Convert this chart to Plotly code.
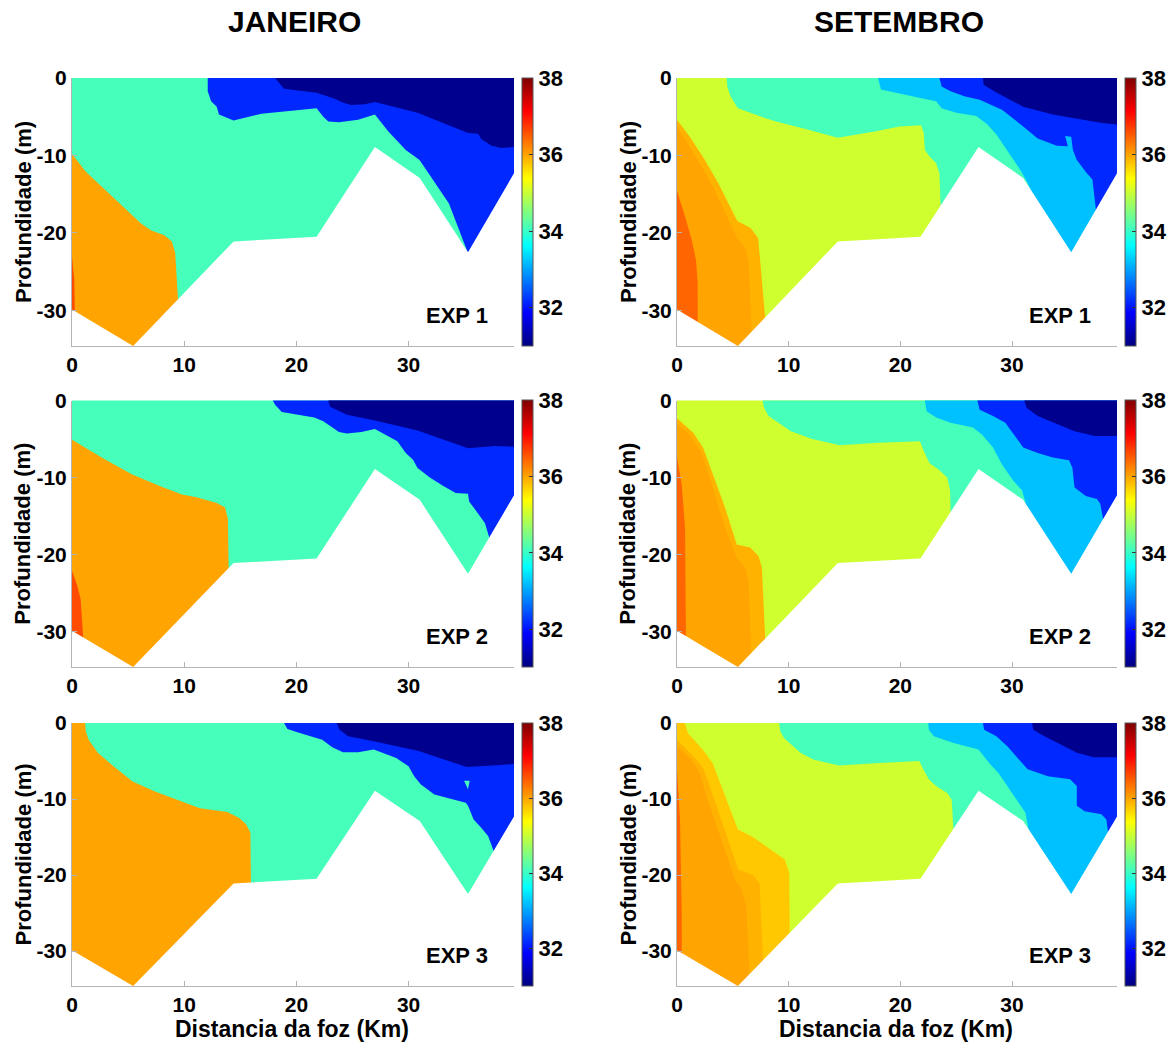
import plotly.graph_objects as go

# ---------------- data ----------------
CB_MIN, CB_MAX = 31.0, 38.0
X_MAX_KM = 39.4
DEPTH_MIN = -34.6

bathy_km = [0.0, 5.45, 14.4, 21.8, 27.0, 31.0, 35.3, 39.4]
bathy_depth = [-29.9, -34.6, -21.1, -20.5, -8.9, -12.9, -22.5, -12.3]

x_ticks = [0, 10, 20, 30]
y_ticks = [0, -10, -20, -30]
cbar_ticks = [32, 34, 36, 38]

month_titles = ["JANEIRO", "SETEMBRO"]
exp_labels = ["EXP 1", "EXP 2", "EXP 3"]
x_title = "Distancia da foz (Km)"
y_title = "Profundidade (m)"

# each region: (salinity class, side it is attached to, boundary km, boundary depth)
jan1_base = 34.1
jan1_regions = [
    (36.0, "left", [0, 1.23, 6.13, 7.06, 8.22, 8.9, 9.2, 9.45],
     [-9.8, -12.1, -18.75, -19.7, -20.3, -21.1, -22.6, -28.6]),
    (36.6, "left", [0, 0.2, 0.25], [-23.0, -26.0, -30.0]),
    (32.15, "right",
     [12.1, 12.1, 12.4, 12.9, 13.1, 14.4, 16.9, 19.0, 21.8, 22.4, 22.85, 23.8, 25.5, 27.0, 28.2, 29.75, 30.98, 31.6, 33.6, 35.27],
     [0, -1.7, -3.0, -3.7, -4.7, -5.5, -4.6, -4.3, -3.9, -5.0, -5.6, -5.7, -5.4, -4.7, -6.9, -9.3, -10.6, -11.9, -16.2, -22.5]),
    (31.1, "right",
     [18.1, 18.9, 21.8, 23.3, 24.2, 24.85, 26.1, 27.0, 30.8, 33.4, 35.3, 36.2, 36.5, 37.4, 38.3, 39.4],
     [0, -1.4, -1.9, -2.6, -3.2, -3.5, -3.4, -3.1, -4.5, -6.0, -7.1, -7.2, -7.9, -8.75, -9.05, -8.9]),
]

jan2_base = 34.1
jan2_regions = [
    (36.0, "left", [0, 2.76, 5.37, 7.98, 9.8, 11.2, 12.9, 13.65, 13.9, 13.96],
     [-5.1, -7.5, -9.6, -11.2, -12.2, -12.6, -13.3, -13.9, -15.4, -21.8]),
    (36.6, "left", [0, 0.46, 0.77, 1.0], [-22.1, -24.0, -25.8, -30.8]),
    (32.15, "right",
     [17.9, 18.1, 18.7, 21.6, 22.4, 23.8, 24.5, 25.8, 27.0, 29.0, 29.75, 30.4, 30.8, 31.9, 33.1, 34.2, 35.3, 35.4, 35.9, 36.8, 37.2],
     [0, -0.56, -1.5, -2.2, -2.7, -4.1, -4.3, -4.1, -3.7, -5.3, -6.8, -7.7, -8.75, -10.0, -11.1, -12.0, -12.1, -13.1, -14.1, -15.9, -17.8]),
    (31.1, "right", [22.85, 23.0, 24.5, 27.0, 30.8, 33.1, 35.3, 37.7, 39.4],
     [0, -0.8, -1.85, -2.6, -3.9, -5.1, -6.2, -5.9, -6.0]),
]

jan3_base = 34.1
jan3_regions = [
    (36.0, "left",
     [1.17, 1.23, 1.48, 2.3, 3.7, 5.4, 7.4, 9.85, 11.4, 13.85, 14.9, 15.5, 15.9, 15.95],
     [0, -1.1, -2.2, -3.9, -5.7, -7.7, -9.0, -10.3, -11.2, -11.7, -12.5, -13.3, -14.4, -21.0]),
    (32.15, "right",
     [18.9, 19.2, 20.3, 22.3, 23.2, 24.15, 25.5, 26.9, 28.9, 30.0, 30.5, 31.1, 32.3, 33.5, 35.1, 35.3, 35.8, 36.5, 37.1, 37.6],
     [0, -0.8, -1.3, -2.2, -3.2, -3.85, -3.85, -3.5, -4.6, -5.7, -7.0, -8.1, -9.4, -9.85, -10.5, -10.9, -12.7, -13.8, -14.9, -16.9]),
    (34.1, "island", [34.95, 35.45, 35.3], [-7.6, -7.6, -8.7]),
    (31.1, "right", [23.6, 23.85, 24.6, 26.9, 30.9, 33.2, 35.2, 37.5, 39.4],
     [0, -0.9, -1.75, -2.4, -3.7, -4.8, -5.8, -5.6, -5.4]),
]

sep1_base = 35.05
sep1_regions = [
    (34.1, "right",
     [4.45, 4.5, 4.8, 5.45, 7.56, 8.87, 11.5, 14.4, 17.7, 19.95, 21.85, 22.1, 22.2, 22.6, 23.2, 23.5, 23.6],
     [0, -1.1, -2.4, -3.9, -5.0, -5.6, -6.6, -7.7, -6.9, -6.25, -6.1, -7.1, -9.3, -10.1, -11.0, -12.3, -16.4]),
    (33.2, "right",
     [18.0, 18.26, 21.9, 23.2, 23.7, 25.0, 26.8, 27.8, 28.6, 29.4, 30.1, 30.8, 31.4, 31.85],
     [0, -1.5, -2.6, -3.0, -3.9, -4.5, -4.9, -6.0, -7.3, -9.05, -10.6, -12.0, -13.6, -15.0]),
    (32.15, "right",
     [23.5, 23.7, 24.5, 25.8, 27.1, 29.1, 31.0, 32.3, 34.0, 35.0, 34.75, 35.3, 35.45, 35.8, 36.7, 37.2, 37.5],
     [0, -1.1, -1.7, -2.4, -2.8, -4.1, -6.25, -7.8, -8.75, -8.8, -7.5, -7.6, -9.3, -10.6, -12.3, -13.1, -16.85]),
    (31.1, "right", [27.4, 27.45, 28.4, 31.0, 33.65, 36.6, 38.05, 39.4],
     [0, -0.86, -1.7, -3.7, -4.7, -5.4, -5.8, -6.0]),
    (35.9, "left", [0, 1.1, 2.5, 3.7, 5.4, 6.6, 7.27, 7.4, 7.9],
     [-5.4, -7.5, -10.6, -13.6, -18.45, -19.35, -20.7, -23.0, -31.0]),
    (36.0, "left", [0, 1.17, 2.66, 3.86, 5.35, 6.1, 6.4, 6.7],
     [-6.2, -8.9, -12.5, -15.9, -20.6, -21.9, -23.6, -32.8]),
    (36.43, "left", [0, 0.6, 1.3, 1.7, 1.85, 1.86],
     [-14.6, -17.3, -20.8, -23.5, -26.5, -31.6]),
]

sep2_base = 35.05
sep2_regions = [
    (34.1, "right",
     [7.66, 7.8, 8.2, 10.2, 12.1, 14.6, 18.0, 21.75, 22.1, 22.6, 23.5, 24.2, 24.45, 24.5],
     [0, -0.95, -2.0, -4.0, -5.0, -5.8, -5.5, -5.3, -6.55, -8.1, -9.05, -10.0, -11.7, -14.6]),
    (33.2, "right",
     [22.2, 22.35, 23.2, 24.5, 26.5, 27.3, 28.3, 29.1, 30.1, 30.9, 31.25],
     [0, -1.4, -2.2, -2.9, -3.5, -4.4, -6.1, -8.3, -10.4, -11.7, -13.5]),
    (32.15, "right",
     [26.9, 27.1, 28.3, 29.4, 30.7, 31.0, 32.3, 33.65, 35.1, 35.4, 35.6, 36.6, 37.6, 37.9, 38.15],
     [0, -1.2, -2.0, -2.9, -5.5, -6.1, -6.8, -7.4, -7.75, -8.7, -11.3, -12.4, -12.8, -13.4, -15.3]),
    (31.1, "right", [31.1, 31.3, 32.3, 35.6, 37.4, 39.4],
     [0, -0.95, -2.0, -4.0, -4.6, -4.6]),
    (35.9, "left", [0, 1.46, 2.36, 3.1, 4.3, 5.35, 6.55, 7.3, 7.6, 7.9],
     [-2.3, -4.2, -6.2, -9.2, -13.9, -18.7, -19.1, -20.2, -21.7, -31.0]),
    (36.0, "left", [0, 1.17, 2.2, 2.96, 4.3, 5.35, 6.1, 6.4, 6.65],
     [-3.0, -4.5, -6.8, -10.1, -16.5, -20.4, -21.7, -23.4, -32.7]),
    (36.43, "left", [0, 0.42, 0.72, 0.8], [-7.3, -10.9, -16.5, -30.8]),
]

sep3_base = 35.05
sep3_regions = [
    (34.1, "right",
     [9.15, 9.25, 9.6, 11.05, 12.2, 14.5, 18.1, 21.7, 22.05, 22.55, 23.2, 24.2, 24.6, 24.75],
     [0, -1.1, -2.0, -3.9, -4.8, -5.6, -5.25, -5.0, -6.1, -7.4, -8.3, -9.2, -10.1, -14.0]),
    (33.2, "right",
     [22.5, 22.55, 23.0, 24.7, 27.0, 27.95, 28.8, 29.6, 30.6, 31.2, 31.45],
     [0, -0.9, -1.75, -2.6, -3.5, -5.25, -6.6, -8.3, -10.5, -11.8, -13.8]),
    (32.15, "right",
     [27.4, 27.5, 28.6, 29.6, 31.4, 33.2, 35.2, 35.8, 35.8, 36.5, 38.0, 38.45, 38.6],
     [0, -0.9, -1.75, -3.1, -6.1, -7.0, -7.4, -8.3, -10.9, -11.6, -12.0, -12.7, -14.4]),
    (31.1, "right", [31.8, 31.9, 32.9, 35.8, 37.3, 39.4],
     [0, -0.9, -1.75, -3.9, -4.5, -4.5]),
    (35.75, "left", [0.7, 1.0, 1.4, 2.35, 3.2, 4.0, 5.45, 6.8, 8.7, 9.65, 10.05, 10.15, 10.2],
     [0, -1.4, -2.0, -3.6, -5.3, -8.35, -14.0, -15.0, -16.9, -17.95, -19.7, -26.7, -27.5]),
    (35.9, "left", [0, 1.46, 2.36, 2.95, 5.5, 6.8, 7.4, 7.7],
     [-2.2, -4.4, -6.0, -8.4, -19.3, -20.0, -21.1, -31.3]),
    (36.0, "left", [0, 1.3, 2.05, 2.65, 5.2, 5.8, 6.2, 6.5],
     [-3.1, -4.8, -6.6, -9.7, -20.6, -21.9, -24.1, -33.2]),
    (36.43, "left", [0, 0.27, 0.42, 0.45], [-6.1, -12.7, -25.0, -30.4]),
]

panels = [  # (row, col, base, regions)
    (0, 0, jan1_base, jan1_regions), (0, 1, sep1_base, sep1_regions),
    (1, 0, jan2_base, jan2_regions), (1, 1, sep2_base, sep2_regions),
    (2, 0, jan3_base, jan3_regions), (2, 1, sep3_base, sep3_regions),
]

# ---------------- style / layout ----------------
W, H = 1175, 1045
FONT = "Liberation Sans, Arial, Helvetica, sans-serif"
col_px = [(72, 514), (677, 1117)]
row_px = [(78, 346), (400.5, 667), (723, 986)]
cbar_px = [522, 1125]
AXIS_GRAY = "#b4b4b4"


def jet_rgb(v):
    f = (v - CB_MIN) / (CB_MAX - CB_MIN)
    cl = lambda t: max(0.0, min(1.0, t))
    r = cl(1.5 - abs(4 * f - 3))
    g = cl(1.5 - abs(4 * f - 2))
    b = cl(1.5 - abs(4 * f - 1))
    return f"rgb({round(r * 255)},{round(g * 255)},{round(b * 255)})"


jet_scale = [[i / 64, jet_rgb(CB_MIN + (CB_MAX - CB_MIN) * i / 64)] for i in range(65)]

OUT_L, OUT_R, OUT_T, OUT_B = -5, 45, 5, -45


def polygon(side, xs, zs):
    xs, zs = list(xs), list(zs)
    if side == "left":
        px = xs + [xs[-1], OUT_L, OUT_L, xs[0]]
        pz = zs + [OUT_B, OUT_B, OUT_T, OUT_T]
    elif side == "right":
        px = xs + [xs[-1], OUT_R, OUT_R, xs[0]]
        pz = zs + [OUT_B, OUT_B, OUT_T, OUT_T]
    else:
        px, pz = xs, zs
    return px + [px[0]], pz + [pz[0]]


def fill_trace(px, pz, color, xa, ya):
    return go.Scatter(x=px, y=pz, mode="lines", fill="toself", fillcolor=color,
                      line=dict(width=0, color=color), hoverinfo="skip",
                      showlegend=False, xaxis=xa, yaxis=ya)


fig = go.Figure()
layout = dict(width=W, height=H,
              margin=dict(l=0, r=0, t=0, b=0, pad=0, autoexpand=False),
              paper_bgcolor="white", plot_bgcolor="white", showlegend=False)
annotations = []

for row, col, base, regions in panels:
    idx = row * 2 + col + 1
    xa = "x" if idx == 1 else f"x{idx}"
    ya = "y" if idx == 1 else f"y{idx}"
    x0, x1 = col_px[col]
    y0, y1 = row_px[row]

    # background water class
    bx = [OUT_L, OUT_R, OUT_R, OUT_L, OUT_L]
    bz = [OUT_T, OUT_T, OUT_B, OUT_B, OUT_T]
    fig.add_trace(fill_trace(bx, bz, jet_rgb(base), xa, ya))
    for sal, side, xs, zs in regions:
        px, pz = polygon(side, xs, zs)
        fig.add_trace(fill_trace(px, pz, jet_rgb(sal), xa, ya))
    # sea-floor mask
    mx = [OUT_L] + bathy_km + [OUT_R, OUT_R, OUT_L, OUT_L]
    mz = [bathy_depth[0]] + bathy_depth + [bathy_depth[-1], OUT_B, OUT_B, bathy_depth[0]]
    fig.add_trace(fill_trace(mx, mz, "white", xa, ya))

    # colorbar carrier
    fig.add_trace(go.Scatter(
        x=[None], y=[None], mode="markers", hoverinfo="skip", showlegend=False,
        xaxis=xa, yaxis=ya,
        marker=dict(color=[CB_MIN], cmin=CB_MIN, cmax=CB_MAX, colorscale=jet_scale,
                    showscale=True,
                    colorbar=dict(x=cbar_px[col] / W, xanchor="left",
                                  y=1 - (y0 + y1) / 2 / H, yanchor="middle",
                                  len=(y1 - y0) / H, lenmode="fraction",
                                  thickness=11, thicknessmode="pixels",
                                  xpad=0, ypad=0, outlinewidth=1, outlinecolor="#555555",
                                  tickvals=cbar_ticks, ticks="inside", ticklen=4,
                                  tickcolor="#333333",
                                  tickfont=dict(family=FONT, size=22, color="black", weight="bold")))))

    tickfont = dict(family=FONT, size=21, color="black", weight="bold")
    layout["xaxis" if idx == 1 else f"xaxis{idx}"] = dict(
        domain=[x0 / W, x1 / W], anchor=ya, range=[0, X_MAX_KM],
        tickvals=x_ticks, ticktext=[str(v) for v in x_ticks],
        showline=True, linecolor=AXIS_GRAY, linewidth=1, mirror=False,
        ticks="inside", ticklen=5, tickcolor=AXIS_GRAY,
        showgrid=False, zeroline=False, tickfont=tickfont, fixedrange=True)
    layout["yaxis" if idx == 1 else f"yaxis{idx}"] = dict(
        domain=[1 - y1 / H, 1 - y0 / H], anchor=xa, range=[DEPTH_MIN, 0],
        tickvals=y_ticks, ticktext=[str(v) for v in y_ticks],
        showline=True, linecolor=AXIS_GRAY, linewidth=1, mirror=False,
        ticks="inside", ticklen=5, tickcolor=AXIS_GRAY,
        showgrid=False, zeroline=False, tickfont=tickfont, fixedrange=True)

    # y-axis title
    annotations.append(dict(text=y_title, x=(x0 - 49) / W, y=1 - ((y0 + y1) / 2) / H,
                            xref="paper", yref="paper", showarrow=False, textangle=-90,
                            xanchor="center", yanchor="middle",
                            font=dict(family=FONT, size=22, color="black", weight="bold")))
    # experiment label
    annotations.append(dict(text=exp_labels[row], x=(x1 - 57) / W,
                            y=1 - (y1 - 31) / H,
                            xref="paper", yref="paper", showarrow=False,
                            xanchor="center", yanchor="middle",
                            font=dict(family=FONT, size=22, color="black", weight="bold")))
    if row == 2:
        annotations.append(dict(text=x_title, x=((x0 + x1) / 2 - 1) / W, y=1 - 1029 / H,
                                xref="paper", yref="paper", showarrow=False,
                                xanchor="center", yanchor="middle",
                                font=dict(family=FONT, size=23, color="black", weight="bold")))

for col, title in enumerate(month_titles):
    x0, x1 = col_px[col]
    annotations.append(dict(text=title, x=((x0 + x1) / 2 + 2) / W, y=1 - 22 / H,
                            xref="paper", yref="paper", showarrow=False,
                            xanchor="center", yanchor="middle",
                            font=dict(family=FONT, size=30, color="black", weight="bold")))

layout["annotations"] = annotations
fig.update_layout(**layout)
fig.write_html("out.html",
               config={"displayModeBar": False, "staticPlot": False},
               post_script="document.body.style.margin='0';document.body.style.padding='0';"
                           "document.body.style.overflow='hidden';")
